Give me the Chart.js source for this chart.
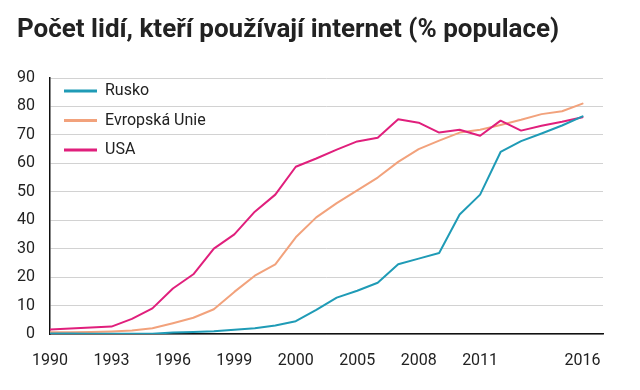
<!DOCTYPE html>
<html>
<head>
<meta charset="utf-8">
<script src="https://cdn.jsdelivr.net/npm/chart.js@4/dist/chart.umd.min.js"></script>
<style>
  html, body { margin: 0; padding: 0; background: #fff; }
  #wrap { width: 640px; height: 390px; }
</style>
</head>
<body>
<div id="wrap"><canvas id="c" width="640" height="390"></canvas></div>
<script>
const titleText = 'Počet lidí, kteří používají internet (% populace)';
const years = [1990,1991,1992,1993,1994,1995,1996,1997,1998,1999,2000,2001,2002,2003,2004,2005,2006,2007,2008,2009,2010,2011,2012,2013,2014,2015,2016];
const seriesNames = ['Rusko', 'Evropská Unie', 'USA'];
const rusko = [0.2,0.2,0.1,0.1,0.1,0.1,0.5,0.7,1.0,1.5,2.0,3.0,4.5,8.5,12.8,15.2,18.0,24.5,26.5,28.5,42.0,49.0,64.0,67.8,70.5,73.3,76.5];
const eu = [0.6,0.6,0.7,0.9,1.2,2.0,3.8,5.7,8.7,14.8,20.5,24.5,34.0,41.0,46.0,50.5,55.0,60.5,65.0,68.0,70.8,71.8,73.5,75.3,77.3,78.3,81.0];
const usa = [1.6,1.9,2.3,2.6,5.3,9.0,16.0,21.0,30.0,35.0,43.0,49.0,58.8,61.7,64.8,67.7,69.0,75.5,74.3,70.8,71.8,69.7,75.0,71.5,73.2,74.6,76.2];
const tickYears = [1990,1993,1996,1999,2002,2005,2008,2011,2016];
const tickLabels = ['1990','1993','1996','1999','2000','2005','2008','2011','2016'];
const colors = ['#1f9bb6', '#f2a27c', '#e01f7c'];

const toPoints = arr => arr.map((v, i) => ({x: years[i], y: v}));

const customLegend = {
  id: 'customLegend',
  afterDraw(chart) {
    const ctx = chart.ctx;
    const area = chart.chartArea;
    ctx.save();
    chart.data.datasets.forEach((ds, i) => {
      const y = area.top + 13 + i * 29.5;
      ctx.strokeStyle = ds.borderColor;
      ctx.lineWidth = 3;
      ctx.beginPath();
      ctx.moveTo(area.left + 14, y);
      ctx.lineTo(area.left + 47, y);
      ctx.stroke();
      ctx.fillStyle = '#222';
      ctx.font = '16px Roboto';
      ctx.textBaseline = 'middle';
      ctx.textAlign = 'left';
      ctx.fillText(ds.label, area.left + 55, y);
    });
    ctx.restore();
  }
};

new Chart(document.getElementById('c'), {
  type: 'line',
  data: {
    datasets: [
      {label: seriesNames[0], data: toPoints(rusko), borderColor: colors[0], backgroundColor: colors[0], order: 0},
      {label: seriesNames[1], data: toPoints(eu), borderColor: colors[1], backgroundColor: colors[1], order: 2},
      {label: seriesNames[2], data: toPoints(usa), borderColor: colors[2], backgroundColor: colors[2], order: 1}
    ]
  },
  options: {
    responsive: false,
    animation: false,
    devicePixelRatio: 1,
    layout: { padding: { left: 17, right: 37, top: 0, bottom: 20 } },
    elements: {
      line: { borderWidth: 2, tension: 0, borderJoinStyle: 'round', borderCapStyle: 'round' },
      point: { radius: 0, hoverRadius: 0 }
    },
    plugins: {
      legend: { display: false },
      tooltip: { enabled: false },
      title: {
        display: true,
        text: titleText,
        align: 'start',
        color: '#222',
        font: { family: 'Roboto', weight: '700', size: 26 },
        padding: { top: 15, bottom: 31.8 }
      }
    },
    scales: {
      x: {
        type: 'linear',
        min: 1990,
        max: 2017,
        afterBuildTicks: axis => { axis.ticks = tickYears.map(v => ({value: v})); },
        afterFit: axis => { axis.height = 36; },
        grid: { display: false, drawTicks: false },
        border: { display: true, color: '#111', width: 1.5 },
        ticks: {
          padding: 17,
          color: '#222',
          font: { family: 'Roboto', size: 16 },
          maxRotation: 0,
          autoSkip: false,
          callback: function(value) {
            const idx = tickYears.indexOf(value);
            return idx >= 0 ? tickLabels[idx] : '';
          }
        }
      },
      y: {
        min: 0,
        max: 90,
        afterFit: axis => { axis.width = 33; },
        grid: { color: '#d2d2d2', lineWidth: 1, drawTicks: false },
        border: { display: true, color: '#111', width: 1.5 },
        ticks: {
          stepSize: 10,
          padding: 15,
          color: '#222',
          font: { family: 'Roboto', size: 16 }
        }
      }
    }
  },
  plugins: [customLegend]
});
</script>
</body>
</html>
